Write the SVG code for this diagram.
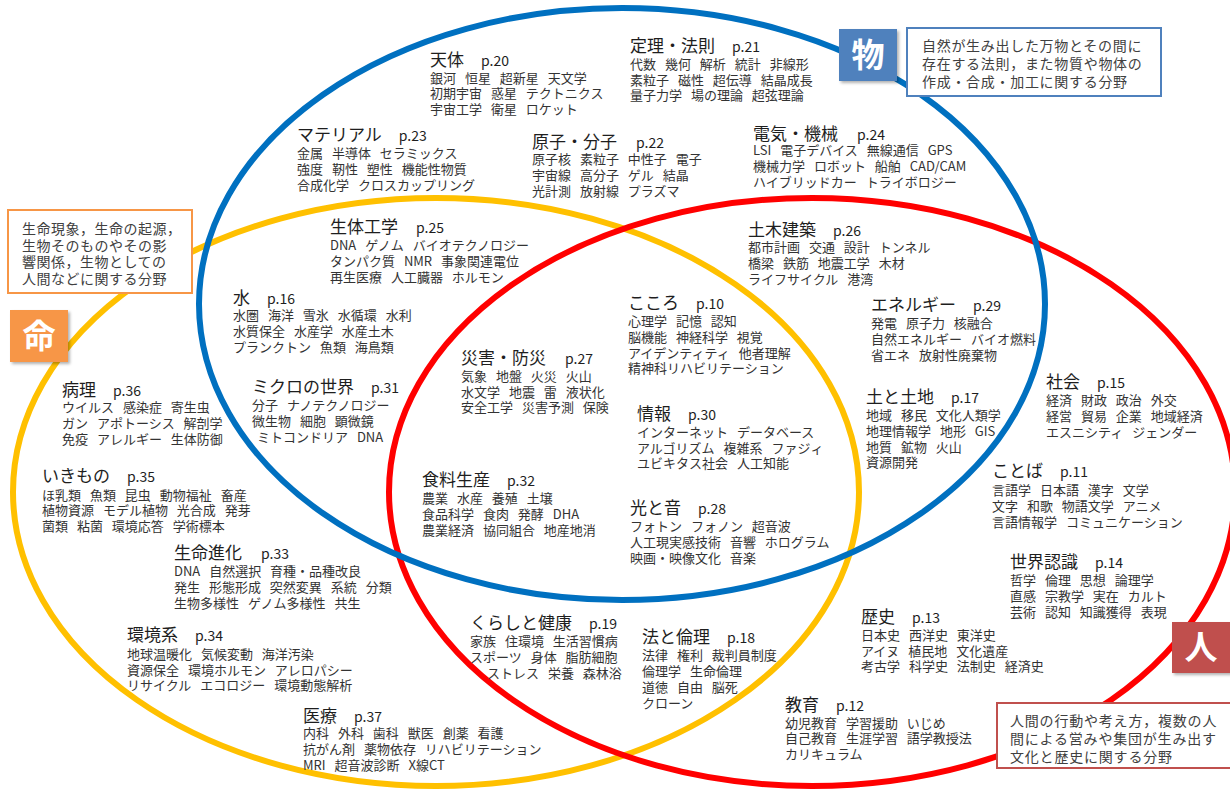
<svg xmlns="http://www.w3.org/2000/svg" width="1230" height="789" viewBox="0 0 1230 789">
<style>
text{font-family:"Noto Sans CJK JP","Noto Sans",sans-serif}
.t{font-size:17px;fill:#1e1e1e}
.p{font-size:14px}
.i{font-size:13px;fill:#333;word-spacing:6px}
.d{font-size:14px;fill:#404040;letter-spacing:0.7px}
.lb{font-size:33px;font-weight:bold;fill:#fff;text-anchor:middle}
.ring{fill:none;stroke-width:6}
</style>
<defs>
<filter id="sh" x="-20%" y="-20%" width="150%" height="150%">
<feDropShadow dx="2" dy="2" stdDeviation="1.5" flood-color="#000" flood-opacity="0.3"/>
</filter>
</defs>
<rect width="1230" height="789" fill="#fff"/>
<g id="connectors">
<ellipse class="ring" cx="436" cy="492" rx="423" ry="294" stroke="#FFC000"/>
<ellipse class="ring" cx="812" cy="492" rx="423" ry="294" stroke="#FF0000"/>
<ellipse class="ring" cx="622" cy="304" rx="423" ry="296" stroke="#0070C0"/>
</g>
<g id="label-mono">
<rect x="839" y="29" width="58" height="52" fill="#4F81BD" filter="url(#sh)"/>
<text class="lb" x="868" y="67">物</text>
</g>
<g id="desc-mono">
<rect x="907" y="28" width="254" height="68" fill="#fff" stroke="#4F81BD" stroke-width="2"/>
<text class="d"><tspan x="922" y="50.5">自然が生み出した万物とその間に</tspan><tspan x="922" y="69">存在する法則，また物質や物体の</tspan><tspan x="922" y="87">作成・合成・加工に関する分野</tspan></text>
</g>
<g id="label-inochi">
<rect x="10" y="310" width="58" height="52" fill="#F79646" filter="url(#sh)"/>
<text class="lb" x="39" y="348">命</text>
</g>
<g id="desc-inochi">
<rect x="8" y="210" width="184" height="83" fill="#fff" stroke="#F79646" stroke-width="2"/>
<text class="d" style="letter-spacing:0.5px"><tspan x="22" y="234">生命現象，生命の起源，</tspan><tspan x="22" y="250.5">生物そのものやその影</tspan><tspan x="22" y="267">響関係，生物としての</tspan><tspan x="22" y="284">人間などに関する分野</tspan></text>
</g>
<g id="label-hito">
<rect x="1172" y="622" width="60" height="51" fill="#C0504D" filter="url(#sh)"/>
<text class="lb" x="1201" y="659">人</text>
</g>
<g id="desc-hito">
<rect x="997" y="703" width="235" height="65" fill="#fff" stroke="#C0504D" stroke-width="2"/>
<text class="d" style="letter-spacing:0.8px"><tspan x="1010" y="725.5">人間の行動や考え方，複数の人</tspan><tspan x="1010" y="743.5">間による営みや集団が生み出す</tspan><tspan x="1010" y="761.5">文化と歴史に関する分野</tspan></text>
</g>

<g id="n-tentai"><text class="t" x="430" y="66">天体<tspan class="p" dx="17">p.20</tspan></text>
<text class="i"><tspan x="430" y="82.5">銀河 恒星 超新星 天文学</tspan><tspan x="430" y="98">初期宇宙 惑星 テクトニクス</tspan><tspan x="430" y="114">宇宙工学 衛星 ロケット</tspan></text></g>

<g id="n-teiri"><text class="t" x="630" y="52">定理・法則<tspan class="p" dx="17">p.21</tspan></text>
<text class="i"><tspan x="630" y="69">代数 幾何 解析 統計 非線形</tspan><tspan x="630" y="84.5">素粒子 磁性 超伝導 結晶成長</tspan><tspan x="630" y="100">量子力学 場の理論 超弦理論</tspan></text></g>

<g id="n-material"><text class="t" x="297" y="141">マテリアル<tspan class="p" dx="17">p.23</tspan></text>
<text class="i"><tspan x="297" y="157.5">金属 半導体 セラミックス</tspan><tspan x="297" y="174">強度 靭性 塑性 機能性物質</tspan><tspan x="297" y="190">合成化学 クロスカップリング</tspan></text></g>

<g id="n-genshi"><text class="t" x="532" y="148">原子・分子<tspan class="p" dx="19">p.22</tspan></text>
<text class="i"><tspan x="532" y="164">原子核 素粒子 中性子 電子</tspan><tspan x="532" y="180">宇宙線 高分子 ゲル 結晶</tspan><tspan x="532" y="196">光計測 放射線 プラズマ</tspan></text></g>

<g id="n-denki"><text class="t" x="753" y="139.5">電気・機械<tspan class="p" dx="19">p.24</tspan></text>
<text class="i"><tspan x="753" y="155">LSI 電子デバイス 無線通信 GPS</tspan><tspan x="753" y="171">機械力学 ロボット 船舶 CAD/CAM</tspan><tspan x="753" y="187">ハイブリッドカー トライボロジー</tspan></text></g>

<g id="n-seitai"><text class="t" x="330" y="233">生体工学<tspan class="p" dx="18">p.25</tspan></text>
<text class="i"><tspan x="330" y="250">DNA ゲノム バイオテクノロジー</tspan><tspan x="330" y="266">タンパク質 NMR 事象関連電位</tspan><tspan x="330" y="282">再生医療 人工臓器 ホルモン</tspan></text></g>

<g id="n-doboku"><text class="t" x="748" y="236">土木建築<tspan class="p" dx="17">p.26</tspan></text>
<text class="i"><tspan x="748" y="252">都市計画 交通 設計 トンネル</tspan><tspan x="748" y="268">橋梁 鉄筋 地震工学 木材</tspan><tspan x="748" y="284">ライフサイクル 港湾</tspan></text></g>

<g id="n-mizu"><text class="t" x="233" y="304">水<tspan class="p" dx="17">p.16</tspan></text>
<text class="i"><tspan x="233" y="320">水圏 海洋 雪氷 水循環 水利</tspan><tspan x="233" y="336">水質保全 水産学 水産土木</tspan><tspan x="233" y="352">プランクトン 魚類 海鳥類</tspan></text></g>

<g id="n-kokoro"><text class="t" x="628" y="309">こころ<tspan class="p" dx="17">p.10</tspan></text>
<text class="i"><tspan x="628" y="326">心理学 記憶 認知</tspan><tspan x="628" y="342">脳機能 神経科学 視覚</tspan><tspan x="628" y="358">アイデンティティ 他者理解</tspan><tspan x="628" y="373">精神科リハビリテーション</tspan></text></g>

<g id="n-energy"><text class="t" x="871" y="311">エネルギー<tspan class="p" dx="17">p.29</tspan></text>
<text class="i"><tspan x="871" y="328">発電 原子力 核融合</tspan><tspan x="871" y="344">自然エネルギー バイオ燃料</tspan><tspan x="871" y="360">省エネ 放射性廃棄物</tspan></text></g>

<g id="n-saigai"><text class="t" x="461" y="364">災害・防災<tspan class="p" dx="19">p.27</tspan></text>
<text class="i"><tspan x="461" y="381">気象 地盤 火災 火山</tspan><tspan x="461" y="397">水文学 地震 雷 液状化</tspan><tspan x="461" y="412">安全工学 災害予測 保険</tspan></text></g>

<g id="n-byouri"><text class="t" x="62" y="396">病理<tspan class="p" dx="17">p.36</tspan></text>
<text class="i"><tspan x="62" y="412">ウイルス 感染症 寄生虫</tspan><tspan x="62" y="428">ガン アポトーシス 解剖学</tspan><tspan x="62" y="444">免疫 アレルギー 生体防御</tspan></text></g>

<g id="n-micro"><text class="t" x="252" y="393">ミクロの世界<tspan class="p" dx="17">p.31</tspan></text>
<text class="i"><tspan x="252" y="410">分子 ナノテクノロジー</tspan><tspan x="252" y="426">微生物 細胞 顕微鏡</tspan><tspan x="257" y="442">ミトコンドリア DNA</tspan></text></g>

<g id="n-shakai"><text class="t" x="1046" y="388">社会<tspan class="p" dx="17">p.15</tspan></text>
<text class="i"><tspan x="1046" y="405">経済 財政 政治 外交</tspan><tspan x="1046" y="421">経営 貿易 企業 地域経済</tspan><tspan x="1046" y="437">エスニシティ ジェンダー</tspan></text></g>

<g id="n-tsuchi"><text class="t" x="866" y="403">土と土地<tspan class="p" dx="17">p.17</tspan></text>
<text class="i"><tspan x="866" y="420">地域 移民 文化人類学</tspan><tspan x="866" y="436">地理情報学 地形 GIS</tspan><tspan x="866" y="452">地質 鉱物 火山</tspan><tspan x="866" y="467">資源開発</tspan></text></g>

<g id="n-jouhou"><text class="t" x="637" y="420">情報<tspan class="p" dx="17">p.30</tspan></text>
<text class="i"><tspan x="637" y="437">インターネット データベース</tspan><tspan x="637" y="453">アルゴリズム 複雑系 ファジィ</tspan><tspan x="637" y="468">ユビキタス社会 人工知能</tspan></text></g>

<g id="n-ikimono"><text class="t" x="42" y="482">いきもの<tspan class="p" dx="17">p.35</tspan></text>
<text class="i"><tspan x="42" y="500">ほ乳類 魚類 昆虫 動物福祉 畜産</tspan><tspan x="42" y="515">植物資源 モデル植物 光合成 発芽</tspan><tspan x="42" y="531">菌類 粘菌 環境応答 学術標本</tspan></text></g>

<g id="n-kotoba"><text class="t" x="992" y="477">ことば<tspan class="p" dx="17">p.11</tspan></text>
<text class="i"><tspan x="992" y="495">言語学 日本語 漢字 文学</tspan><tspan x="992" y="511">文字 和歌 物語文学 アニメ</tspan><tspan x="992" y="527">言語情報学 コミュニケーション</tspan></text></g>

<g id="n-shokuryou"><text class="t" x="422" y="486">食料生産<tspan class="p" dx="17">p.32</tspan></text>
<text class="i"><tspan x="422" y="503">農業 水産 養殖 土壌</tspan><tspan x="422" y="519">食品科学 食肉 発酵 DHA</tspan><tspan x="422" y="535">農業経済 協同組合 地産地消</tspan></text></g>

<g id="n-hikari"><text class="t" x="630" y="514">光と音<tspan class="p" dx="17">p.28</tspan></text>
<text class="i"><tspan x="630" y="531">フォトン フォノン 超音波</tspan><tspan x="630" y="547">人工現実感技術 音響 ホログラム</tspan><tspan x="630" y="563">映画・映像文化 音楽</tspan></text></g>

<g id="n-shinka"><text class="t" x="174" y="559">生命進化<tspan class="p" dx="19">p.33</tspan></text>
<text class="i"><tspan x="174" y="576">DNA 自然選択 育種・品種改良</tspan><tspan x="174" y="592">発生 形態形成 突然変異 系統 分類</tspan><tspan x="174" y="608">生物多様性 ゲノム多様性 共生</tspan></text></g>

<g id="n-sekai"><text class="t" x="1010" y="568">世界認識<tspan class="p" dx="17">p.14</tspan></text>
<text class="i"><tspan x="1010" y="585">哲学 倫理 思想 論理学</tspan><tspan x="1010" y="601">直感 宗教学 実在 カルト</tspan><tspan x="1010" y="617">芸術 認知 知識獲得 表現</tspan></text></g>

<g id="n-kankyou"><text class="t" x="127" y="641">環境系<tspan class="p" dx="17">p.34</tspan></text>
<text class="i"><tspan x="127" y="659">地球温暖化 気候変動 海洋汚染</tspan><tspan x="127" y="675">資源保全 環境ホルモン アレロパシー</tspan><tspan x="127" y="690">リサイクル エコロジー 環境動態解析</tspan></text></g>

<g id="n-rekishi"><text class="t" x="861" y="623">歴史<tspan class="p" dx="17">p.13</tspan></text>
<text class="i"><tspan x="861" y="640">日本史 西洋史 東洋史</tspan><tspan x="861" y="656">アイヌ 植民地 文化遺産</tspan><tspan x="861" y="671">考古学 科学史 法制史 経済史</tspan></text></g>

<g id="n-kurashi"><text class="t" x="470" y="629">くらしと健康<tspan class="p" dx="17">p.19</tspan></text>
<text class="i"><tspan x="470" y="646">家族 住環境 生活習慣病</tspan><tspan x="470" y="662">スポーツ 身体 脂肪細胞</tspan><tspan x="487" y="678">ストレス 栄養 森林浴</tspan></text></g>

<g id="n-hou"><text class="t" x="642" y="643">法と倫理<tspan class="p" dx="17">p.18</tspan></text>
<text class="i"><tspan x="642" y="660">法律 権利 裁判員制度</tspan><tspan x="642" y="676">倫理学 生命倫理</tspan><tspan x="642" y="692">道徳 自由 脳死</tspan><tspan x="642" y="708">クローン</tspan></text></g>

<g id="n-iryou"><text class="t" x="303" y="722">医療<tspan class="p" dx="17">p.37</tspan></text>
<text class="i"><tspan x="303" y="738">内科 外科 歯科 獣医 創薬 看護</tspan><tspan x="303" y="754">抗がん剤 薬物依存 リハビリテーション</tspan><tspan x="303" y="770">MRI 超音波診断 X線CT</tspan></text></g>

<g id="n-kyouiku"><text class="t" x="785" y="711">教育<tspan class="p" dx="17">p.12</tspan></text>
<text class="i"><tspan x="785" y="728">幼児教育 学習援助 いじめ</tspan><tspan x="785" y="743">自己教育 生涯学習 語学教授法</tspan><tspan x="785" y="759">カリキュラム</tspan></text></g>
</svg>
